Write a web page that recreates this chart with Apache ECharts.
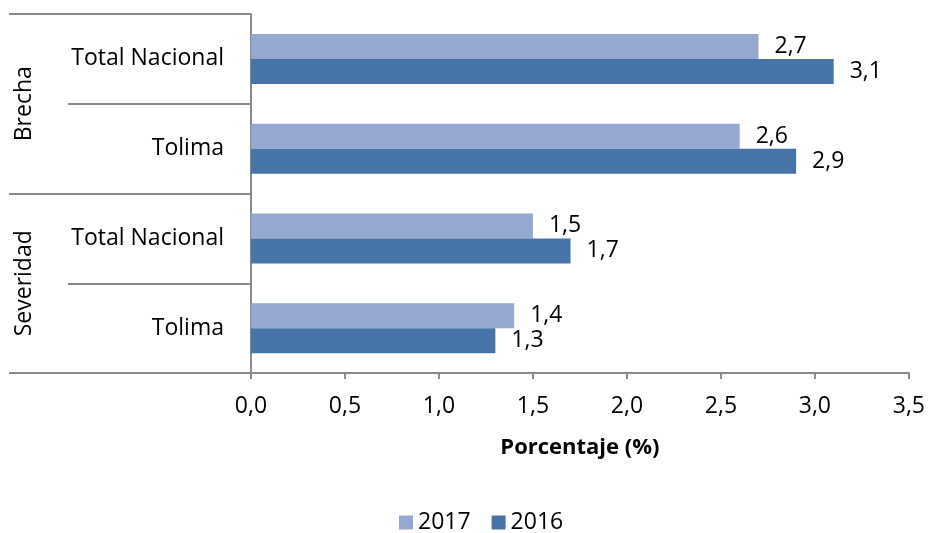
<!DOCTYPE html>
<html>
<head>
<meta charset="utf-8">
<script src="https://cdn.jsdelivr.net/npm/echarts@6/dist/echarts.min.js"></script>
<style>html,body{margin:0;padding:0;background:#fff;}#c{width:928px;height:533px;}</style>
</head>
<body>
<div id="c"></div>
<script>
// Data (bottom to top)
const categories = ['Tolima', 'Total Nacional', 'Tolima', 'Total Nacional'];
const groups = ['Severidad', 'Brecha'];
const seriesNames = ['2017', '2016'];
const values2017 = [1.4, 1.5, 2.6, 2.7];
const values2016 = [1.3, 1.7, 2.9, 3.1];
const xTicks = [0, 0.5, 1, 1.5, 2, 2.5, 3, 3.5];
const axisTitle = 'Porcentaje (%)';

const FONT = 'Open Sans';
const fmt = v => Number(v).toFixed(1).replace('.', ',');
const lineColor = '#8a8a8a';

const chart = echarts.init(document.getElementById('c'));
const labelStyle = {show: true, position: 'right', distance: 16, color: '#000', fontFamily: FONT, fontSize: 23,
  formatter: p => fmt(p.value)};
chart.setOption({
  animation: false,
  grid: {left: 251, right: 19, top: 14, bottom: 160, containLabel: false},
  legend: {
    data: seriesNames, left: 394, top: 506, itemWidth: 14, itemHeight: 14, itemGap: 21,
    textStyle: {fontFamily: FONT, fontSize: 23, color: '#000'}, icon: 'rect'
  },
  xAxis: {
    type: 'value', min: xTicks[0], max: xTicks[xTicks.length - 1], interval: 0.5,
    axisLine: {show: true, lineStyle: {color: lineColor, width: 2}},
    axisTick: {show: true, length: 6, lineStyle: {color: lineColor, width: 2}},
    splitLine: {show: false},
    axisLabel: {fontFamily: FONT, fontSize: 23, color: '#000', margin: 22, formatter: v => fmt(v)},
    name: axisTitle, nameLocation: 'middle', nameGap: 64,
    nameTextStyle: {fontFamily: FONT, fontSize: 22, fontWeight: 'bold', color: '#000'}
  },
  yAxis: [{
    type: 'category', position: 'left',
    data: categories.map((c, i) => c + '#' + i),
    axisLine: {show: true, lineStyle: {color: lineColor, width: 2}},
    axisTick: {show: true, length: 183, alignWithLabel: false, lineStyle: {color: lineColor, width: 2}},
    axisLabel: {fontFamily: FONT, fontSize: 23, color: '#000', margin: 27, formatter: v => v.split('#')[0]}
  }, {
    type: 'category', position: 'left', offset: 0,
    data: groups,
    axisLine: {show: false},
    axisTick: {show: true, length: 242, lineStyle: {color: lineColor, width: 2}},
    axisLabel: {fontFamily: FONT, fontSize: 23, color: '#000', rotate: 90, margin: 215}
  }],
  series: [{
    name: seriesNames[0], type: 'bar', yAxisIndex: 0, data: values2017, barWidth: 25, barGap: '0%',
    itemStyle: {color: '#95A9D0'}, label: labelStyle
  }, {
    name: seriesNames[1], type: 'bar', yAxisIndex: 0, data: values2016, barWidth: 25, barGap: '0%',
    itemStyle: {color: '#4674A9'}, label: labelStyle
  }]
});
</script>
</body>
</html>
